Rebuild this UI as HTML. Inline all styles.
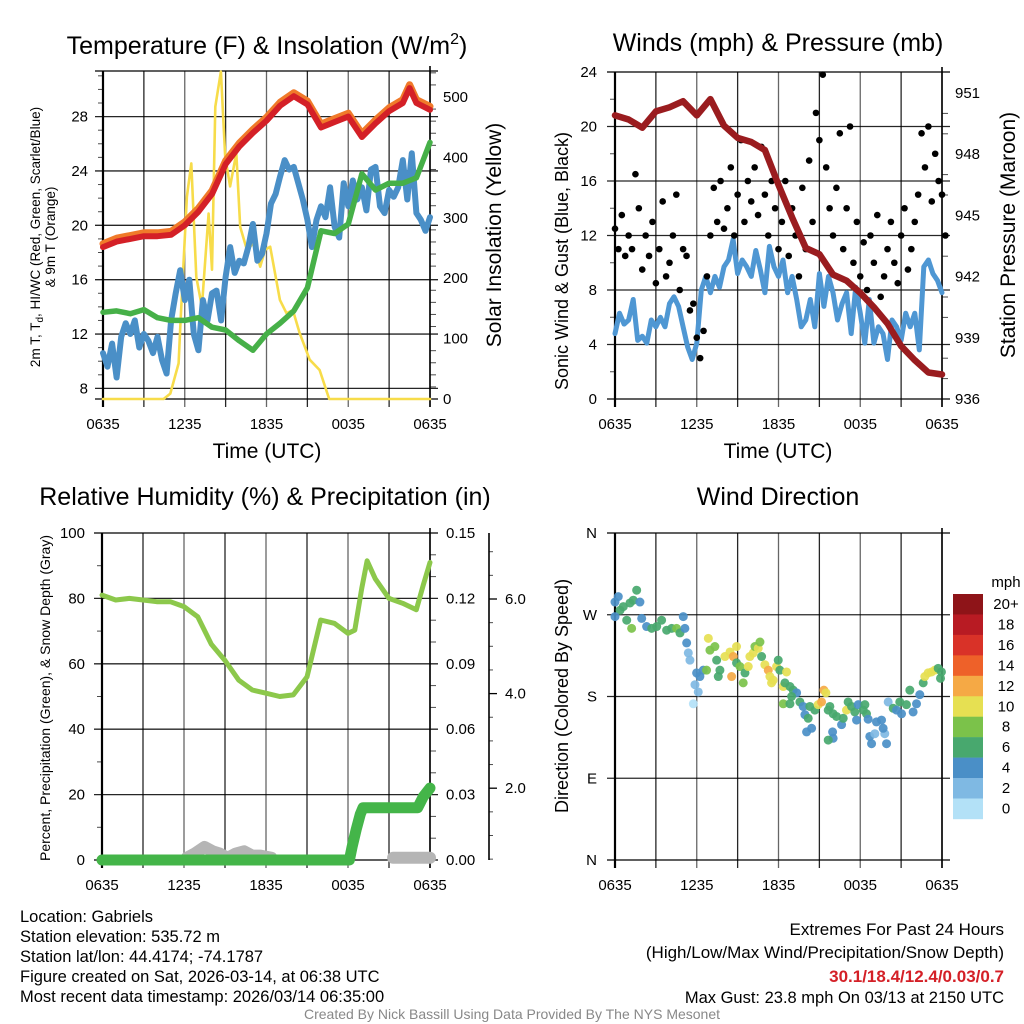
<!DOCTYPE html>
<html><head><meta charset="utf-8"><style>
body{margin:0;background:#fff;}
svg{display:block;font-family:"Liberation Sans",sans-serif;}
</style></head><body>
<svg id="c" width="1024" height="1024" viewBox="0 0 1024 1024" xmlns="http://www.w3.org/2000/svg"></svg>
<script>
// ---------- DATA ----------
const xTickLabels = ["0635","1235","1835","0035","0635"];
const tempHours = [0,1,2,3,4,5,6,7,8,9,10,11,12,13,14,15,16,17,18,19,20,21,22,22.5,23,24];
const tempVals = [18.4,18.8,19.0,19.2,19.2,19.3,20.0,21.0,22.3,24.5,25.8,26.8,27.7,28.8,29.5,28.9,27.2,27.6,28.0,26.5,27.5,28.4,29.0,30.1,29.0,28.5];
const dewVals = [13.6,13.7,13.5,13.8,13.2,13.0,13.0,13.2,12.5,12.3,11.5,10.8,12.0,12.8,13.7,15.4,19.6,19.4,20.1,23.8,22.6,23.1,23.1,23.3,23.5,26.1];
const wcVals = [10.6,9.6,11.3,8.8,11.8,12.8,12.0,13.0,11.0,12.0,11.5,10.6,11.8,10.1,9.1,13.0,15.0,16.7,14.5,16.0,12.0,10.8,14.5,13.0,15.0,15.2,13.0,16.2,18.4,16.5,17.4,17.2,18.4,20.1,17.4,17.9,19.4,21.6,22.3,23.6,24.8,24.1,24.3,23.1,21.9,20.4,18.4,20.4,21.4,20.6,22.8,19.9,19.1,23.1,21.4,23.3,21.9,22.8,21.1,24.1,24.3,21.4,20.9,22.6,22.1,22.8,24.8,21.9,25.3,20.9,20.4,19.6,20.6];
const solarHours = [0,4.45,4.94,5.55,5.67,6.16,6.48,6.85,7.26,7.75,8.0,8.24,8.65,8.97,9.33,9.78,10.07,10.56,11.05,11.54,11.9,12.27,12.98,13.47,13.94,14.44,15.17,15.9,16.6,24];
const solarVals = [0,0,9,59,120,335,390,202,153,307,214,484,542,401,352,407,285,247,258,219,247,252,164,142,147,109,65,48,0,0];
const windVals = [4.8,6.3,5.5,5.8,7.3,4.3,4.6,4.1,5.8,5.3,6.0,5.3,7.0,7.5,6.8,5.3,3.8,2.9,4.1,8.0,9.0,7.8,9.0,8.2,9.7,10.2,11.7,9.2,10.2,9.7,9.0,10.9,9.5,7.8,11.2,9.7,9.0,10.2,7.8,9.0,7.3,5.3,5.8,7.3,5.3,9.2,6.8,9.0,7.8,5.8,7.0,7.8,4.8,8.2,6.3,4.1,7.3,4.1,5.3,4.8,2.9,5.8,5.3,4.3,6.3,5.3,6.3,3.6,9.7,10.2,9.2,8.7,7.8];
const gustVals = [12.5,11,13.5,10.5,12,11,16.5,14,9.5,12,10.5,13,8.5,11,14.5,9,10,12,15,8,11,10.5,6.5,7,4.5,3,5,9,12,15.5,13,16,12.5,14,17,12,15,19,13,16,14.5,17,13.5,18.5,15,12,16,14,11,13,16,10.5,14,12,9,15.5,11,17.5,13,21,19,23.8,17,14,12,15.5,19.5,11,14,20,10,13,9,11.5,8,12,10,13.5,7.5,9,11,13,10,8.5,12,14,9.5,11,13,15,19.5,17,20,14.5,18,16,15,12];
const presVals = [949.9,949.7,949.3,950.1,950.3,950.6,949.9,950.7,949.4,948.8,948.6,948.2,946.5,944.9,943.4,943.1,942.1,941.8,941.2,940.5,939.7,938.6,937.9,937.3,937.2];
const rhHours = [0,1,2,3,4,5,6,7,8,9,10,11,12,13,14,15,16,17,18,18.5,19,19.4,20,21,22,23,23.5,24];
const rhVals = [81,79.5,80,79.5,79,79,77.5,74.4,66,61,55,52,51,50,50.5,56,73.4,72.4,69.3,70.3,83,91.5,86,80,78.5,76.5,84,91];
const pcpHours = [0,18.1,18.3,18.6,18.9,19.1,23.1,23.5,24];
const pcpVals = [0,0,0.006,0.014,0.021,0.024,0.024,0.029,0.033];
const snowHours1 = [6.2,6.8,7.5,8.1,8.6,9.2,9.8,10.4,11,11.6,12.4];
const snowVals1 = [0.001,0.003,0.006,0.004,0.003,0.001,0.003,0.004,0.002,0.002,0.001];
const snowHours2 = [21.3,22,22.8,23.4,24];
const snowVals2 = [0.001,0.001,0.001,0.001,0.001];
const dirHours = [0,0.24,0.37,0.61,0.86,1.1,1.34,1.59,1.83,1.22,0,1.96,2.32,2.69,3.06,3.42,3.79,4.16,4.52,4.77,5.01,5.13,5.26,5.38,5.5,5.75,5.99,6.23,5.87,6.11,6.48,6.72,6.97,6.85,7.33,7.46,7.7,7.58,8.07,8.44,8.56,8.68,8.92,8.92,9.17,9.54,9.41,9.78,9.9,10.15,10.27,10.51,10.64,10.76,11.0,11.25,11.37,11.49,11.61,11.86,11.98,12.1,12.59,12.35,12.47,12.84,13.08,13.33,12.96,12.35,12.84,13.57,13.81,13.94,14.18,14.3,14.67,14.06,14.43,14.91,15.16,15.33,15.48,15.65,15.77,16.01,15.97,16.01,15.65,16.26,16.63,16.75,16.99,17.11,17.36,17.6,17.73,17.85,18.22,18.34,18.46,18.58,18.7,18.83,19.07,19.19,19.56,19.8,19.93,19.68,20.05,20.42,20.66,20.9,21.03,21.39,21.64,21.88,22.13,22.37,22.62,22.74,22.98,23.23,23.47,23.72,23.89,23.96];
const dirDeg = [284,290,275,279,264,283,286,297,284,255,268,266,257,255,257,264,253,255,255,250,268,255,239,228,220,172,206,202,193,185,209,209,231,244,235,220,209,202,224,229,202,224,235,217,213,206,195,213,224,228,235,233,240,224,215,209,202,195,198,213,220,209,207,191,195,191,187,184,180,172,172,174,169,160,156,169,165,141,145,171,174,187,184,165,169,161,141,134,132,158,149,156,165,174,169,163,154,171,165,171,161,155,136,128,139,152,154,139,128,145,174,167,165,174,161,171,187,163,172,182,195,202,206,207,209,211,200,207];
const dirSpeed = [5,5,7,7,7,7,7,7,5,9,5,5,5,7,7,7,7,7,9,7,5,5,5,3,3,1,5,5,3,3,5,9,9,11,9,7,7,7,11,11,13,13,11,7,9,7,9,11,11,11,9,11,9,7,11,13,11,11,11,11,7,7,11,11,7,7,7,5,7,9,7,7,5,5,7,7,7,5,5,11,13,13,11,7,7,7,5,5,7,7,5,7,11,7,7,7,5,5,7,7,7,5,5,5,3,5,5,3,5,5,3,7,5,7,5,7,7,5,5,5,7,11,11,11,11,7,7,7];
const cbLabels = ["20+","18","16","14","12","10","8","6","4","2","0"];
const cbColors = ["#8e1418","#b81b23","#d93228","#ee6129","#f5a945","#e6e052","#7bc24a","#48a86e","#4a8fc7","#7fb9e3","#b3e1f7"];

// ---------- HELPERS ----------
const NS="http://www.w3.org/2000/svg";
const svg=document.getElementById('c');
function mk(tag,attrs,parent){const e=document.createElementNS(NS,tag);for(const k in attrs)e.setAttribute(k,attrs[k]);(parent||svg).appendChild(e);return e;}
function txt(s,x,y,size,anchor,parent,extra){const e=mk('text',Object.assign({x:x,y:y,'font-size':size,'text-anchor':anchor||'middle',fill:'#000'},extra||{}),parent);e.textContent=s;return e;}
function poly(xs,ys,fx,fy,stroke,w,parent){let d='';for(let i=0;i<xs.length;i++){d+=(i?'L':'M')+fx(xs[i]).toFixed(1)+','+fy(ys[i]).toFixed(1);}return mk('path',{d:d,fill:'none',stroke:stroke,'stroke-width':w,'stroke-linejoin':'round','stroke-linecap':'round'},parent);}
function seq(n,step){const a=[];for(let i=0;i<n;i++)a.push(i*step);return a;}
const TK=15;

function frame(P,g){
  for(let h=0;h<=24;h+=3){const x=P.x(h);mk('line',{x1:x,y1:P.y0,x2:x,y2:P.y1+8,stroke:'#000','stroke-width':1.3,'stroke-opacity':h%6?0.85:0.6},g);}
  mk('line',{x1:P.x0,y1:P.y0,x2:P.x0,y2:P.y1+8,stroke:'#000','stroke-width':2.2},g);
  mk('line',{x1:P.x1,y1:P.y0-5,x2:P.x1,y2:P.y1+8,stroke:'#000','stroke-width':1.6},g);
  mk('line',{x1:P.x0-8,y1:P.y0,x2:P.x1+8,y2:P.y0,stroke:'#000','stroke-width':1.3},g);
  mk('line',{x1:P.x0-8,y1:P.y1,x2:P.x1+8,y2:P.y1,stroke:'#000','stroke-width':1.3},g);
  xTickLabels.forEach((l,i)=>{const t=txt(l,P.x(i*6),P.y1+30,TK,'middle',g);});
}
function hgrid(P,vals,fy,g){vals.forEach(v=>{const y=fy(v);mk('line',{x1:P.x0-8,y1:y,x2:P.x1+8,y2:y,stroke:'#000','stroke-width':1.3,'stroke-opacity':0.85},g);});}
function minor(x,vals,fy,len,g){vals.forEach(v=>{const y=fy(v);mk('line',{x1:x,y1:y,x2:x+len,y2:y,stroke:'#000','stroke-width':1,'stroke-opacity':0.7},g);});}

// ---------- PANEL 1 ----------
const P1={x0:103,x1:430,y0:71,y1:399};P1.x=h=>P1.x0+h*(P1.x1-P1.x0)/24;
const y1L=v=>388.4-(v-8)*13.59, y1R=v=>399-v*0.604;
const g1=mk('g',{});


frame(P1,g1);
hgrid(P1,[8,12,16,20,24,28],y1L,g1);
minor(P1.x0-5,[9,10,11,13,14,15,17,18,19,21,22,23,25,26,27,29,30,31],y1L,5,g1);
minor(P1.x1,[20,40,60,80,120,140,160,180,220,240,260,280,320,340,360,380,420,440,460,480,520,540],y1R,6,g1);
[8,12,16,20,24,28].forEach(v=>{const t=txt(String(v),88,y1L(v)+5,TK,'end',g1);});
[0,100,200,300,400,500].forEach(v=>{const t=txt(String(v),443,y1R(v)+5,TK,'start',g1);});
const sol=poly(solarHours,solarVals,P1.x,y1R,'#f7dc4a',2.6,g1);

const tOr=poly(tempHours,tempVals.map(v=>v+0.25),P1.x,y1L,'#f07a2a',7,g1);

const wcH=seq(wcVals.length,1/3);
const wc=poly(wcH,wcVals,P1.x,y1L,'#4a8fc7',6,g1);

const dw=poly(tempHours,dewVals,P1.x,y1L,'#46b048',5.5,g1);

const tr=poly(tempHours,tempVals,P1.x,y1L,'#d42027',6,g1);

const t1=mk('text',{x:267,y:54,'font-size':25,'text-anchor':'middle'},g1);
t1.innerHTML='Temperature (F) &amp; Insolation (W/m<tspan font-size="16" dy="-10">2</tspan><tspan dy="10">)</tspan>';

let a=txt('2m T, T',0,0,13.5,'middle',g1,{transform:'translate(40,237) rotate(-90)'});a.innerHTML='2m T, T<tspan font-size="10" dy="3">d</tspan><tspan dy="-3">, HI/WC (Red, Green, Scarlet/Blue)</tspan>';

a=txt('& 9m T (Orange)',0,0,13.5,'middle',g1,{transform:'translate(55,237) rotate(-90)'});

a=txt('Solar Insolation (Yellow)',0,0,21,'middle',g1,{transform:'translate(501,235) rotate(-90)'});

a=txt('Time (UTC)',267,458,21,'middle',g1);


// ---------- PANEL 2 ----------
const P2={x0:615,x1:942,y0:72,y1:399};P2.x=h=>P2.x0+h*(P2.x1-P2.x0)/24;
const y2L=v=>399-v*13.625, y2R=p=>399-(p-936)*20.4;
const g2=mk('g',{});


frame(P2,g2);
hgrid(P2,[4,8,12,16,20],y2L,g2);
minor(P2.x0-5,[2,6,10,14,18,22],y2L,5,g2);
minor(P2.x1,[937,938,940,941,943,944,946,947,949,950],y2R,6,g2);
[0,4,8,12,16,20,24].forEach(v=>{const t=txt(String(v),597,y2L(v)+5,TK,'end',g2);});
[936,939,942,945,948,951].forEach(v=>{const t=txt(String(v),955,y2R(v)+5,TK,'start',g2);});
const ws=poly(seq(windVals.length,1/3),windVals,P2.x,y2L,'#4f97d3',5,g2);

gustVals.forEach((v,i)=>{const c=mk('circle',{cx:P2.x(i*0.25),cy:y2L(v),r:3.3,fill:'#000'},g2);

});
const pr=poly(seq(presVals.length,1),presVals,P2.x,y2R,'#9a1c1f',6.5,g2);

a=txt('Winds (mph) & Pressure (mb)',778,51,25,'middle',g2);

a=txt('Sonic Wind & Gust (Blue, Black)',0,0,18,'middle',g2,{transform:'translate(568,261) rotate(-90)'});

a=txt('Station Pressure (Maroon)',0,0,21,'middle',g2,{transform:'translate(1015,235) rotate(-90)'});

a=txt('Time (UTC)',778,458,21,'middle',g2);


// ---------- PANEL 3 ----------
const P3={x0:102,x1:430,y0:533,y1:860};P3.x=h=>P3.x0+h*(P3.x1-P3.x0)/24;
const y3L=v=>860-v*3.27, y3P=v=>860-v*2180, y3S=v=>599+(6-v)*47.3;
const g3=mk('g',{});


frame(P3,g3);
hgrid(P3,[20,40,60,80],y3L,g3);
minor(P3.x0-5,[10,30,50,70,90],y3L,5,g3);
minor(P3.x1,[0.01,0.02,0.04,0.05,0.07,0.08,0.1,0.11,0.13,0.14],y3P,6,g3);
[0,20,40,60,80,100].forEach(v=>{const t=txt(String(v),85,y3L(v)+5,TK,'end',g3);});
[0,0.03,0.06,0.09,0.12,0.15].forEach(v=>{const t=txt(v.toFixed(2),446,y3P(v)+5,TK,'start',g3);});
mk('line',{x1:489,y1:533,x2:489,y2:860,stroke:'#000','stroke-width':1.6},g3);
[2,4,6].forEach(v=>{mk('line',{x1:489,y1:y3S(v),x2:497,y2:y3S(v),stroke:'#000','stroke-width':1.3},g3);const t=txt(v.toFixed(1),505,y3S(v)+5,TK,'start',g3);});
minor(489,[0.5,1,1.5,2.5,3,3.5,4.5,5,5.5,6.5,7],y3S,4,g3);
const sn1=poly(snowHours1,snowVals1,P3.x,y3P,'#b5b5b5',12,g3);

const sn2=poly(snowHours2,snowVals2,P3.x,y3P,'#b5b5b5',12,g3);

const rh=poly(rhHours,rhVals,P3.x,y3L,'#8cc84b',5,g3);

const pc=poly(pcpHours,pcpVals,P3.x,y3P,'#44b549',11,g3);

a=txt('Relative Humidity (%) & Precipitation (in)',265,505,25,'middle',g3);

a=txt('Percent, Precipitation (Green), & Snow Depth (Gray)',0,0,14,'middle',g3,{transform:'translate(50,698) rotate(-90)'});


// ---------- PANEL 4 ----------
const P4={x0:615,x1:942,y0:533,y1:860};P4.x=h=>P4.x0+h*(P4.x1-P4.x0)/24;
const y4=d=>860-d*327/360;
const g4=mk('g',{});


frame(P4,g4);
hgrid(P4,[90,180,270],y4,g4);
const dirLabels=["N","E","S","W","N"];
dirLabels.forEach((l,i)=>{const t=txt(l,597,y4(i*90)+5,TK,'end',g4);});
function spdColor(s){const idx=Math.min(10,Math.floor(s/2));return cbColors[10-idx];}
dirHours.forEach((h,i)=>{const c=mk('circle',{cx:P4.x(h),cy:y4(dirDeg[i]),r:4.5,fill:spdColor(dirSpeed[i]),'fill-opacity':0.92},g4);

});
a=txt('Wind Direction',778,505,25,'middle',g4);

a=txt('Direction (Colored By Speed)',0,0,18,'middle',g4,{transform:'translate(568,696) rotate(-90)'});

const cb=mk('g',{});


cbColors.forEach((col,i)=>{mk('rect',{x:953,y:594+i*20.45,width:30,height:20.7,fill:col},cb);});
cbLabels.forEach((l,i)=>{const t=txt(l,1006,609+i*20.45,15,'middle',cb);});
a=txt('mph',1006,587,15,'middle',cb);


// ---------- FOOTER ----------
const fl=["Location: Gabriels","Station elevation: 535.72 m","Station lat/lon: 44.4174; -74.1787","Figure created on Sat, 2026-03-14, at 06:38 UTC","Most recent data timestamp: 2026/03/14 06:35:00"];
fl.forEach((s,i)=>{const t=txt(s,20,922+i*20,16.5,'start',null,{textLength:0});t.removeAttribute('textLength');});
a=txt('Extremes For Past 24 Hours',1004,935,17,'end');
a=txt('(High/Low/Max Wind/Precipitation/Snow Depth)',1004,958,17,'end');
a=txt('30.1/18.4/12.4/0.03/0.7',1004,982,17,'end',null,{fill:'#d42027','font-weight':'bold'});
a=txt('Max Gust: 23.8 mph On 03/13 at 2150 UTC',1004,1003,16.5,'end');
a=txt('Created By Nick Bassill Using Data Provided By The NYS Mesonet',512,1019,14,'middle',null,{fill:'#888'});
</script>
</body></html>
